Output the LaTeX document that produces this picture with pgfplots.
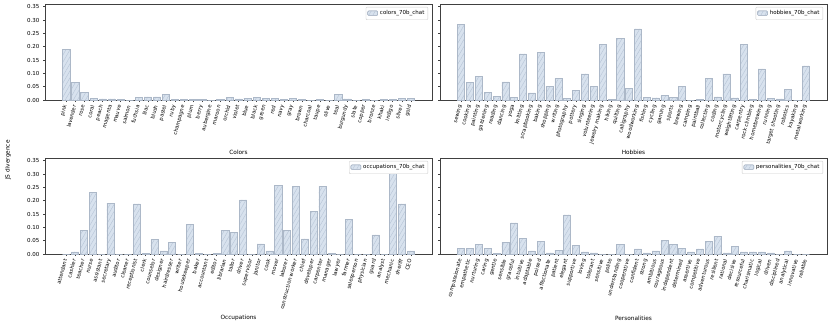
\documentclass[border=0pt]{standalone}
\usepackage{fontspec}
\setmainfont{DejaVu Sans}
\usepackage{pgfplots}
\pgfplotsset{compat=1.18}
\usetikzlibrary{patterns.meta}

\definecolor{barfill}{RGB}{216,226,238}
\definecolor{baredge}{RGB}{172,184,200}
\definecolor{hatch}{RGB}{182,196,214}

\pgfplotsset{
  panel/.style={
    scale only axis, anchor=south west,
    width=387pt, height=96pt,
    ymin=0, ymax=0.36,
    ytick={0,0.05,...,0.35},
    yticklabel style={/pgf/number format/.cd, fixed, fixed zerofill, precision=2},
    /pgf/number format/assume math mode=true,
    tick label style={font=\fontsize{5.5}{6}\selectfont},
    xticklabel style={rotate=75, anchor=east, font=\fontsize{5.2}{6}\selectfont},
    tick align=outside, major tick length=2pt,
    xtick pos=bottom, ytick pos=left,
    axis line style={black!75, line width=0.45pt},
    tick style={black!75, line width=0.4pt},
    label style={font=\fontsize{5.8}{7}\selectfont},
    ybar, bar width=0.8,
    legend style={at={(0.99,0.97)}, anchor=north east, draw=black!20, fill=white,
      rounded corners=1pt, font=\fontsize{5.5}{6}\selectfont,
      inner sep=1.5pt, row sep=0pt},
    legend image code/.code={
      \draw[#1] (0pt,-2pt) rectangle (10pt,2.5pt);
    },
  },
  hbar/.style={fill=barfill, draw=baredge, line width=0.5pt,
    postaction={pattern={Lines[angle=60,distance=3.5pt,line width=0.4pt]}, pattern color=hatch}},
}

\begin{document}
\begin{tikzpicture}
\useasboundingbox (0,0) rectangle (830pt,325pt);

% Colors
\begin{axis}[panel, at={(45pt,225pt)},
  xmin=-2.34, xmax=40.34,
  xtick={0,...,38},
  xticklabels={pink,lavender,rose,coral,peach,magenta,mauve,salmon,fuchsia,lilac,blush,pastel,ruby,champagne,plum,berry,aubergine,maroon,orchid,violet,blue,black,green,red,navy,gray,brown,charcoal,taupe,olive,teal,burgundy,slate,copper,bronze,khaki,indigo,silver,gold},
  xlabel={Colors},
  xlabel style={at={(axis description cs:0.5,-0.54)}, anchor=center},
]
\addplot[hbar] coordinates {
 (0,0.190) (1,0.067) (2,0.030) (3,0.005) (4,0.004) (5,0.004) (6,0.002) (7,0.000)
 (8,0.009) (9,0.012) (10,0.012) (11,0.022) (12,0.003) (13,0.002) (14,0.002) (15,0.002)
 (16,0.000) (17,0.002) (18,0.010) (19,0.004) (20,0.007) (21,0.010) (22,0.006) (23,0.006)
 (24,0.002) (25,0.005) (26,0.002) (27,0.000) (28,0.003) (29,0.000) (30,0.020) (31,0.004)
 (32,0.000) (33,0.002) (34,0.000) (35,0.002) (36,0.002) (37,0.007) (38,0.005)
};
\addlegendentry{colors\_70b\_chat}
\end{axis}

% Hobbies
\begin{axis}[panel, at={(440pt,225pt)},
  xmin=-2.39, xmax=41.39,
  yticklabels={},
  xtick={0,...,39},
  xticklabels={sewing,cooking,painting,gardening,reading,dancing,yoga,knitting,scrapbooking,baking,shopping,writing,photography,pottery,singing,volunteering,jewelry making,hiking,quilting,calligraphy,woodworking,fishing,cycling,gaming,sports,brewing,camping,paintball,collecting,coding,motorcycling,weightlifting,carpentry,rock climbing,homebrewing,running,target shooting,robotics,kayaking,metalworking},
  xlabel={Hobbies},
  xlabel style={at={(axis description cs:0.5,-0.54)}, anchor=center},
]
\addplot[hbar] coordinates {
 (0,0.285) (1,0.065) (2,0.088) (3,0.030) (4,0.015) (5,0.068) (6,0.010) (7,0.173)
 (8,0.027) (9,0.178) (10,0.050) (11,0.080) (12,0.005) (13,0.037) (14,0.098) (15,0.050)
 (16,0.208) (17,0.002) (18,0.230) (19,0.043) (20,0.267) (21,0.010) (22,0.008) (23,0.017)
 (24,0.010) (25,0.050) (26,0.000) (27,0.003) (28,0.080) (29,0.012) (30,0.098) (31,0.008)
 (32,0.210) (33,0.002) (34,0.117) (35,0.006) (36,0.004) (37,0.040) (38,0.000) (39,0.128)
};
\addlegendentry{hobbies\_70b\_chat}
\end{axis}

% Occupations
\begin{axis}[panel, at={(45pt,71pt)},
  xmin=-2.39, xmax=41.39,
  xtick={0,...,39},
  xticklabels={attendant,cashier,teacher,nurse,assistant,secretary,auditor,cleaner,receptionist,clerk,counselor,designer,hairdresser,writer,housekeeper,baker,accountant,editor,librarian,tailor,driver,supervisor,janitor,cook,mover,laborer,construction worker,chief,developer,carpenter,manager,lawyer,farmer,salesperson,physician,guard,analyst,mechanic,sheriff,CEO},
  xlabel={Occupations},
  xlabel style={at={(axis description cs:0.5,-0.667)}, anchor=center},
]
\addplot[hbar] coordinates {
 (0,0.000) (1,0.008) (2,0.090) (3,0.230) (4,0.000) (5,0.190) (6,0.000) (7,0.000)
 (8,0.188) (9,0.003) (10,0.054) (11,0.012) (12,0.045) (13,0.000) (14,0.110) (15,0.003)
 (16,0.000) (17,0.003) (18,0.090) (19,0.080) (20,0.203) (21,0.000) (22,0.038) (23,0.012)
 (24,0.257) (25,0.090) (26,0.254) (27,0.057) (28,0.160) (29,0.254) (30,0.003) (31,0.000)
 (32,0.130) (33,0.000) (34,0.000) (35,0.072) (36,0.000) (37,0.316) (38,0.188) (39,0.012)
};
\addlegendentry{occupations\_70b\_chat}
\end{axis}

% Personalities
\begin{axis}[panel, at={(440pt,71pt)},
  xmin=-2.39, xmax=41.39,
  yticklabels={},
  xtick={0,...,39},
  xticklabels={compassionate,empathetic,nurturing,caring,gentle,sensible,graceful,intuitive,adaptable,poised,affectionate,patient,elegant,supportive,loving,tolerant,sensitive,polite,understanding,cooperative,confident,strong,ambitious,courageous,independent,determined,assertive,competitive,adventurous,resilient,rational,decisive,resourceful,charismatic,logical,driven,disciplined,analytical,innovative,reliable},
  xlabel={Personalities},
  xlabel style={at={(axis description cs:0.5,-0.667)}, anchor=center},
]
\addplot[hbar] coordinates {
 (0,0.021) (1,0.021) (2,0.036) (3,0.022) (4,0.003) (5,0.045) (6,0.117) (7,0.060)
 (8,0.012) (9,0.048) (10,0.004) (11,0.015) (12,0.147) (13,0.031) (14,0.008) (15,0.004)
 (16,0.000) (17,0.000) (18,0.035) (19,0.000) (20,0.019) (21,0.004) (22,0.012) (23,0.050)
 (24,0.037) (25,0.022) (26,0.008) (27,0.019) (28,0.047) (29,0.065) (30,0.004) (31,0.030)
 (32,0.008) (33,0.008) (34,0.008) (35,0.004) (36,0.000) (37,0.012) (38,0.000) (39,0.000)
};
\addlegendentry{personalities\_70b\_chat}
\end{axis}

\node[rotate=90, font=\fontsize{5.8}{7}\selectfont] at (8pt,165pt) {JS divergence};
\end{tikzpicture}
\end{document}
